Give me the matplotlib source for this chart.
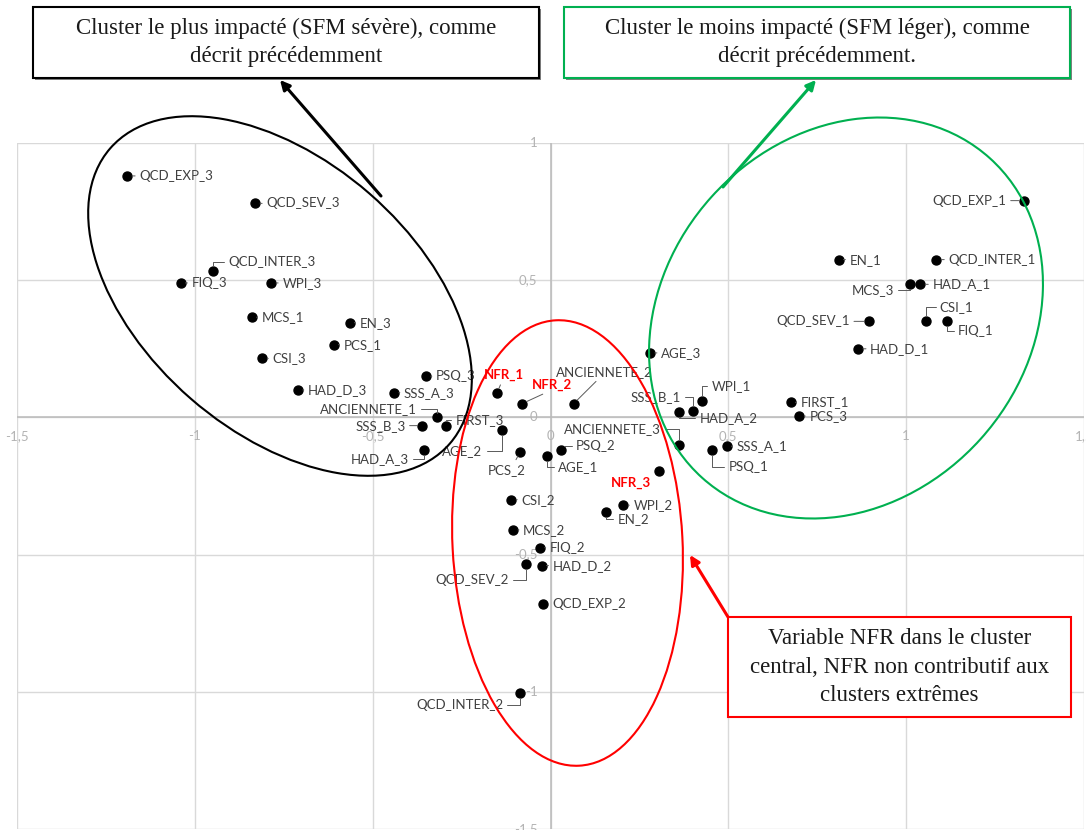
import matplotlib
matplotlib.use('Agg')
import matplotlib.pyplot as plt
from matplotlib.patches import Ellipse, Rectangle, FancyArrowPatch

W, H = 1086, 830

# variable coordinates on the two factorial axes
names = ['QCD_EXP_3', 'QCD_SEV_3', 'QCD_INTER_3', 'FIQ_3', 'WPI_3', 'MCS_1', 'EN_3', 'PCS_1',
         'CSI_3', 'HAD_D_3', 'PSQ_3', 'SSS_A_3', 'ANCIENNETE_1', 'FIRST_3', 'SSS_B_3', 'HAD_A_3',
         'NFR_1', 'NFR_2', 'ANCIENNETE_2', 'AGE_2', 'PCS_2', 'AGE_1', 'PSQ_2', 'NFR_3',
         'CSI_2', 'WPI_2', 'EN_2', 'MCS_2', 'FIQ_2', 'QCD_SEV_2', 'HAD_D_2', 'QCD_EXP_2',
         'QCD_INTER_2', 'AGE_3', 'WPI_1', 'SSS_B_1', 'HAD_A_2', 'ANCIENNETE_3', 'PSQ_1', 'SSS_A_1',
         'FIRST_1', 'PCS_3', 'EN_1', 'QCD_INTER_1', 'MCS_3', 'HAD_A_1', 'QCD_SEV_1', 'CSI_1',
         'FIQ_1', 'HAD_D_1', 'QCD_EXP_1']
xs = [-1.19, -0.83, -0.95, -1.04, -0.785, -0.84, -0.565, -0.61,
      -0.81, -0.71, -0.35, -0.44, -0.32, -0.295, -0.36, -0.355,
      -0.15, -0.08, 0.065, -0.135, -0.085, -0.01, 0.03, 0.305,
      -0.11, 0.205, 0.155, -0.105, -0.03, -0.07, -0.025, -0.02,
      -0.085, 0.28, 0.425, 0.40, 0.36, 0.36, 0.455, 0.495,
      0.675, 0.70, 0.81, 1.085, 1.01, 1.04, 0.895, 1.055,
      1.115, 0.865, 1.33]
ys = [0.88, 0.78, 0.535, 0.49, 0.49, 0.365, 0.345, 0.265,
      0.215, 0.10, 0.15, 0.09, 0.0, -0.03, -0.03, -0.12,
      0.09, 0.05, 0.05, -0.045, -0.125, -0.14, -0.12, -0.195,
      -0.30, -0.32, -0.345, -0.41, -0.475, -0.535, -0.54, -0.68,
      -1.005, 0.235, 0.06, 0.025, 0.02, -0.10, -0.12, -0.105,
      0.055, 0.005, 0.575, 0.575, 0.485, 0.485, 0.35, 0.35,
      0.35, 0.25, 0.79]
highlight = ['NFR_1', 'NFR_2', 'NFR_3']

xticks = [-1.5, -1, -0.5, 0, 0.5, 1, 1.5]
xtick_labels = ['-1,5', '-1', '-0,5', '0', '0,5', '1', '1,5']
yticks = [1, 0.5, 0, -0.5, -1, -1.5]
ytick_labels = ['1', '0,5', '0', '-0,5', '-1', '-1,5']

box_black = "Cluster le plus impacté (SFM sévère), comme\ndécrit précédemment"
box_green = "Cluster le moins impacté (SFM léger), comme\ndécrit précédemment."
box_red = "Variable NFR dans le cluster\ncentral, NFR non contributif aux\nclusters extrêmes"

# label placement: dx, dy in pixels (dy downward), alignment, leader type
place = {
    'QCD_EXP_3': (12, 0, 'left', 's'), 'QCD_SEV_3': (11, 0, 'left', 's'),
    'QCD_INTER_3': (16, -9, 'left', 'a'), 'FIQ_3': (11, 0, 'left', 's'),
    'WPI_3': (11, 0, 'left', 's'), 'MCS_1': (10, 0, 'left', 's'),
    'EN_3': (10, 0, 'left', 's'), 'PCS_1': (10, 0, 'left', 's'),
    'CSI_3': (10, 0, 'left', 's'), 'HAD_D_3': (10, 0, 'left', 's'),
    'PSQ_3': (10, 0, 'left', 's'), 'SSS_A_3': (10, 0, 'left', 's'),
    'ANCIENNETE_1': (-20, -8, 'right', 'a'), 'FIRST_3': (10, -6, 'left', 'a'),
    'SSS_B_3': (-17, 0, 'right', 's'), 'HAD_A_3': (-15, 9, 'right', 'a'),
    'NFR_1': (7, -18, 'center', 'b'), 'NFR_2': (30, -19, 'center', 'b'),
    'ANCIENNETE_2': (31, -32, 'center', 'b'), 'AGE_2': (-20, 21, 'right', 'a'),
    'PCS_2': (-14, 18, 'center', 't'), 'AGE_1': (11, 11, 'left', 'a'),
    'PSQ_2': (15, -4, 'left', 'a'), 'NFR_3': (-28, 12, 'center', ''),
    'CSI_2': (10, 0, 'left', 's'), 'WPI_2': (10, 0, 'left', 's'),
    'EN_2': (12, 7, 'left', 'a'), 'MCS_2': (10, 0, 'left', 's'),
    'FIQ_2': (10, 0, 'left', 's'), 'QCD_SEV_2': (-17, 16, 'right', 'a'),
    'HAD_D_2': (11, 0, 'left', 's'), 'QCD_EXP_2': (9, 0, 'left', ''),
    'QCD_INTER_2': (-17, 12, 'right', 'a'), 'AGE_3': (11, 0, 'left', 's'),
    'WPI_1': (10, -15, 'left', 'a'), 'SSS_B_1': (-12, -14, 'right', 'a'),
    'HAD_A_2': (21, 6, 'left', 'a'), 'ANCIENNETE_3': (-18, -16, 'right', 'a'),
    'PSQ_1': (16, 17, 'left', 'a'), 'SSS_A_1': (10, 0, 'left', 's'),
    'FIRST_1': (10, 0, 'left', 's'), 'PCS_3': (10, 0, 'left', 's'),
    'EN_1': (11, 0, 'left', 's'), 'QCD_INTER_1': (12, 0, 'left', 's'),
    'MCS_3': (-16, 6, 'right', 'a'), 'HAD_A_1': (12, 0, 'left', 's'),
    'QCD_SEV_1': (-19, 0, 'right', 's'), 'CSI_1': (14, -14, 'left', 'a'),
    'FIQ_1': (11, 10, 'left', 'a'), 'HAD_D_1': (12, 0, 'left', 's'),
    'QCD_EXP_1': (-17, 0, 'right', 's'),
}


def fig_xy(px, py):
    return px / W, 1 - py / H


def inch_xy(px, py):
    return px / 100.0, (H - py) / 100.0


fig = plt.figure(figsize=(W / 100, H / 100), dpi=100)
ax = fig.add_axes([17 / W, 1 / H, (1084 - 17) / W, (829 - 143) / H])
ax.set_xlim(-1.5, 1.5)
ax.set_ylim(-1.5, 1)
for s in ax.spines.values():
    s.set_visible(False)
ax.set_xticks([])
ax.set_yticks([])
for v in xticks:
    ax.axvline(v, color='#d9d9d9', lw=1.0, zorder=0)
for v in yticks:
    ax.axhline(v, color='#d9d9d9', lw=1.0, zorder=0)
ax.axvline(0, color='#bababa', lw=1.1, zorder=0.5)
ax.axhline(0, color='#bababa', lw=1.1, zorder=0.5)

tick_font = dict(family='Lato', fontsize=9.5, color='#b3b3b3')
for v, t in zip(xticks, xtick_labels):
    ax.annotate(t, (v, 0), xytext=(0, -19), textcoords='offset pixels',
                ha='center', va='center', **tick_font)
for v, t in zip(yticks, ytick_labels):
    ax.annotate(t, (0, v), xytext=(-13, 0), textcoords='offset pixels',
                ha='right', va='center', **tick_font)

ax.scatter(xs, ys, s=42, color='black', zorder=3, clip_on=False)

relpos_map = {'left': (0, 0.5), 'right': (1, 0.5)}
for n, x, y in zip(names, xs, ys):
    dx, dy, ha, lead = place[n]
    red = n in highlight
    kw = dict(family='Lato', fontsize=9.5, color='#ff0000' if red else '#404040',
              fontweight='bold' if red else 'normal')
    props = None
    if lead:
        props = dict(arrowstyle='-', color='#595959', lw=0.7, shrinkA=1, shrinkB=3.5)
        if lead == 's':
            props['relpos'] = relpos_map[ha]
        elif lead == 'a':
            props['relpos'] = relpos_map[ha]
            props['connectionstyle'] = 'angle,angleA=0,angleB=90,rad=0'
        elif lead == 'b':
            props['relpos'] = (0.45, 0)
        elif lead == 't':
            props['relpos'] = (0.7, 1)
    ax.annotate(n, (x, y), xytext=(dx, -dy), textcoords='offset pixels',
                ha=ha, va='center', arrowprops=props, zorder=4, **kw)

# cluster ellipses (pixel centre, width, height, angle)
ell = [((280, 296), 450, 272, 139, 'black'),
       ((846, 318), 430, 362, 48, '#00b050'),
       ((567.5, 543), 230, 446, 3, '#ff0000')]
for (cx, cy), w, h, ang, col in ell:
    fig.add_artist(Ellipse(inch_xy(cx, cy), w / 100, h / 100, angle=ang,
                           transform=fig.dpi_scale_trans, fill=False,
                           edgecolor=col, lw=1.5))


def text_box(x0, y0, x1, y1, col, txt, shadow=False):
    if shadow:
        fig.add_artist(Rectangle(fig_xy(x0 + 2, y1 + 2), (x1 - x0) / W, (y1 - y0) / H,
                                 transform=fig.transFigure, facecolor='#7f7f7f',
                                 edgecolor='none'))
    fig.add_artist(Rectangle(fig_xy(x0, y1), (x1 - x0) / W, (y1 - y0) / H,
                             transform=fig.transFigure, facecolor='white',
                             edgecolor=col, lw=1.5))
    cx, cy = fig_xy((x0 + x1) / 2, (y0 + y1) / 2)
    fig.text(cx, cy, txt, ha='center', va='center', family='Liberation Serif',
             fontsize=16.5, color='#1a1a1a', linespacing=1.45)


text_box(33, 7, 539, 78, 'black', box_black, shadow=True)
text_box(564, 7, 1070, 78, '#00b050', box_green, shadow=True)
text_box(728, 617, 1071, 717, '#ff0000', box_red)

arrows = [((381, 196), (280, 80), 'black'),
          ((723, 187), (816, 80), '#00b050'),
          ((728, 617), (690, 555), '#ff0000')]
for a, b, col in arrows:
    fig.add_artist(FancyArrowPatch(fig_xy(*a), fig_xy(*b), transform=fig.transFigure,
                                   arrowstyle='-|>', mutation_scale=14, lw=2.2,
                                   color=col, shrinkA=0, shrinkB=0))

fig.savefig('out.png', dpi=100)
